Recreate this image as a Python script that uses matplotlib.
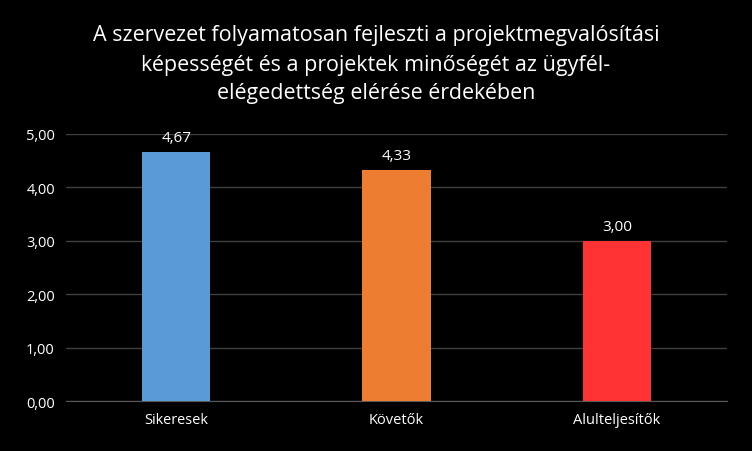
import matplotlib
matplotlib.use("Agg")
import matplotlib.pyplot as plt

categories = ["Sikeresek", "Követők", "Alulteljesítők"]
values = [4.67, 4.33, 3.00]
colors = ["#5B9BD5", "#ED7D31", "#FF3333"]
yticks = [0, 1, 2, 3, 4, 5]

fig = plt.figure(figsize=(7.52, 4.52), dpi=100, facecolor="black")
ax = fig.add_axes([66/752, 1-402/452, 661/752, 267/452], facecolor="black")
x = range(len(categories))
ax.bar(x, values, width=0.31, color=colors, zorder=3)
for i, v in enumerate(values):
    ax.text(i, v + 0.12, f"{v:.2f}".replace(".", ","), ha="center", va="bottom",
            color="white", fontsize=11, fontfamily="Open Sans")
ax.set_xlim(-0.5, 2.5)
ax.set_ylim(0, 5)
ax.set_yticks(yticks)
ax.set_yticklabels([f"{t:.2f}".replace(".", ",") for t in yticks], color="white",
                   fontsize=10.5, fontfamily="Open Sans")
ax.set_xticks(list(x))
ax.set_xticklabels(categories, color="white", fontsize=10.5, fontfamily="Open Sans")
ax.tick_params(length=0, pad=8)
ax.grid(axis="y", color="#404040", linewidth=1, zorder=0)
for s in ["top", "right", "left"]:
    ax.spines[s].set_visible(False)
ax.spines["bottom"].set_color("#595959")
fig.text(0.5, 1-65/452, "A szervezet folyamatosan fejleszti a projektmegvalósítási\nképességét és a projektek minőségét az ügyfél-\nelégedettség elérése érdekében",
         ha="center", va="center", color="white", fontsize=15.5, fontfamily="Open Sans",
         linespacing=1.5)
fig.savefig("out.png", facecolor="black")
